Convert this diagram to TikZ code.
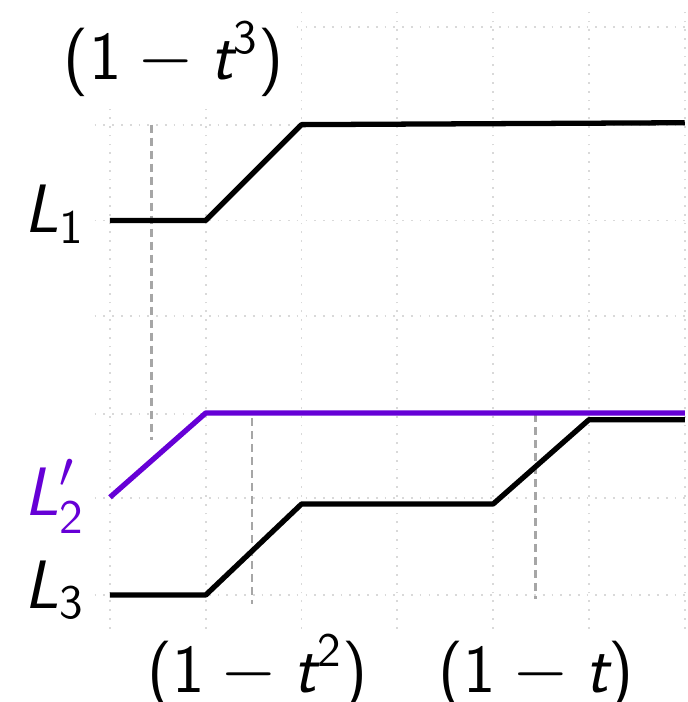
\documentclass[tikz,border=0pt]{standalone}
\usepackage{amsmath}
\usepackage{xcolor}
\usepackage{tikz}
\newcommand{\sfv}[1]{\text{\sffamily\slshape #1}}
\newcommand{\sfn}[1]{\text{\sffamily\upshape #1}}
\definecolor{lviolet}{RGB}{102,0,214}

\begin{document}
\begin{tikzpicture}[
    x=0.958cm, y=0.958cm,
    every node/.style={font=\fontsize{19.5}{23}\selectfont},
    gridline/.style={gray!30, dotted, line width=0.5pt},
    guide/.style={gray!70, dash pattern=on 2.3pt off 1.4pt, line width=0.7pt},
    level/.style={line width=1.5pt, line join=round},
    tlabel/.style={anchor=base},
    llabel/.style={anchor=base east, inner sep=0pt}
]
\useasboundingbox (-1.148,-1.117) rectangle (6.033,6.211);
% grid
\foreach \x in {0,...,6}
    \draw[gridline] (\x,-0.35) -- (\x,6.1);
\foreach \y in {0,1.01,1.89,2.91,3.91,4.91,5.93}
    \draw[gridline] (-0.16,\y) -- (6.03,\y);

% guides
\draw[guide] (0.435,4.91) -- (0.435,1.62);
\draw[guide] (1.48,1.85) -- (1.48,-0.09);
\draw[guide] (4.44,1.89) -- (4.44,-0.04);

% levels
\draw[level] (0,3.91) -- (1,3.91) -- (2,4.91) -- (6,4.93);
\draw[level] (0,0) -- (1,0) -- (2,0.95) -- (4,0.95) -- (5,1.83) -- (6,1.83);
\draw[level, lviolet] (0,1.02) -- (1,1.9) -- (6,1.9);

% labels
\node[llabel] (l1) at (-0.26,3.78) {$\sfv{L}_{\sfn{1}}$};
\node[llabel, lviolet] (l2) at (-0.26,0.825) {$\sfv{L}'_{\sfn{2}}$};
\node[llabel] (l3) at (-0.26,-0.136) {$\sfv{L}_{\sfn{3}}$};
\node[tlabel, fill=white] (t3) at (0.668,5.376) {$\sfn{(}\sfn{1}-\sfv{t}^{\sfn{3}}\sfn{)}$};
\node[tlabel] (t2) at (1.54,-1.02) {$\sfn{(}\sfn{1}-\sfv{t}^{\sfn{2}}\sfn{)}$};
\node[tlabel] (t1) at (4.45,-1.02) {$\sfn{(}\sfn{1}-\sfv{t}\sfn{)}$};
\end{tikzpicture}
\end{document}
